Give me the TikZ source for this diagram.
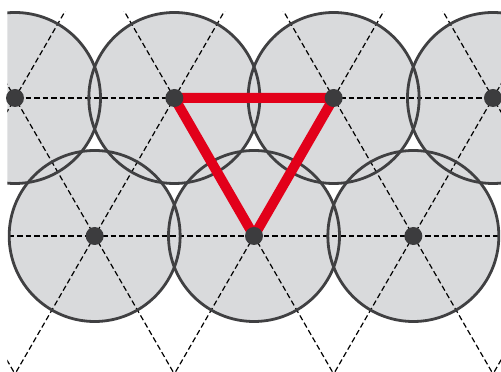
\documentclass[tikz,border=0pt]{standalone}
\usetikzlibrary{positioning}
\definecolor{discfill}{HTML}{D9DADC}
\definecolor{discline}{HTML}{404042}
\definecolor{siteA}{HTML}{3C3C3E}
\definecolor{accentR}{HTML}{E2001A}

\begin{document}
\begin{tikzpicture}[x=1pt, y=1pt,
    disc/.style={fill=discfill},
    rim/.style={draw=discline, line width=2.8pt},
    grid/.style={black, line width=1.2pt, dash pattern=on 5.5pt off 3pt},
    cell/.style={accentR, line width=10pt, line join=round},
    dot/.style={circle, fill=siteA, inner sep=0pt, minimum size=18pt}]
  \useasboundingbox (0,0) rectangle (501,372);

  % lattice sites
  \foreach \i in {0,...,3}
    \coordinate (t\i) at (15+\i*159.33,274);
  \foreach \i in {0,...,2}
    \coordinate (b\i) at (94.67+\i*159.33,136);

  % discs
  \begin{scope}
    \clip (7.3,0) rectangle (501,372);
    \foreach \c in {t0,t1,t2,t3,b0,b1,b2}
      \fill[disc] (\c) circle (85.5);
    % lattice lines
    \begin{scope}
      \clip (7,0) rectangle (501,360);
      \foreach \y in {274,136}
        \draw[grid] (0,\y) -- (501,\y);
      \foreach \k in {-3,...,5} {
        \draw[grid] (15+\k*159.33,274) ++(240:520) -- ++(60:1040);
        \draw[grid] (15+\k*159.33,274) ++(300:520) -- ++(120:1040);
      }
    \end{scope}
    \foreach \c in {t0,t1,t2,t3,b0,b1,b2}
      \draw[rim] (\c) circle (85.5);
  \end{scope}

  % unit cell
  \draw[cell] (t1) -- (t2) -- (b1) -- cycle;

  \foreach \c in {t0,t1,t2,t3,b0,b1,b2}
    \node[dot] (n\c) at (\c) {};
\end{tikzpicture}
\end{document}
